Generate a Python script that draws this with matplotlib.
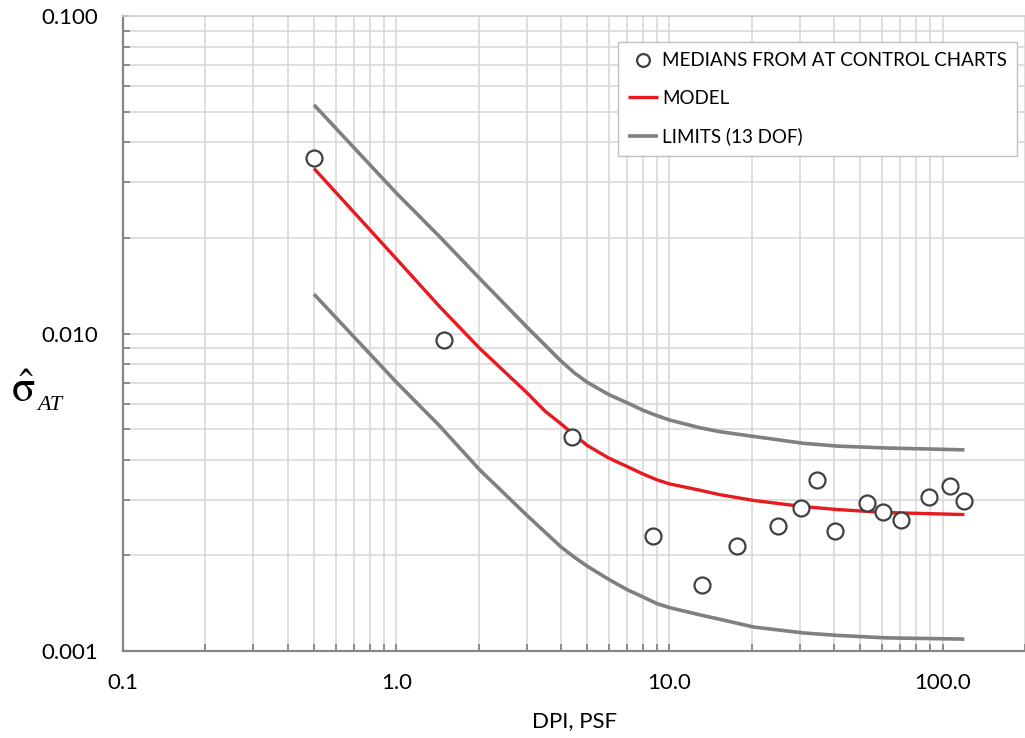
import matplotlib
matplotlib.use("Agg")
import matplotlib.pyplot as plt
from matplotlib.ticker import LogLocator, FixedLocator, FixedFormatter, NullFormatter

# medians from the AT control charts
dpi_psf = [0.5, 1.5, 4.4, 8.7, 13.2, 17.6, 24.9, 30.4, 34.8, 40.4, 52.8, 60.4, 70.3, 88.8, 106, 120]
sigma_med = [0.0357, 0.00954, 0.00473, 0.00231, 0.00161, 0.00214, 0.00247, 0.00282,
             0.00346, 0.00239, 0.00292, 0.00274, 0.00258, 0.00305, 0.00332, 0.00297]

# model and 13 DOF limits, read along a common DPI grid
curve_dpi = [0.5, 1.0, 1.44, 2.02, 3.0, 3.5, 4.0, 4.5, 5.0, 6.0, 7.0, 8.0, 9.0, 10.0, 12.9,
             15.2, 20.3, 30.9, 41.0, 61.9, 120]
model = [0.0331, 0.0172, 0.01216, 0.00898, 0.00652, 0.00570, 0.00520, 0.00478, 0.00444,
         0.00405, 0.00381, 0.00361, 0.00346, 0.00336, 0.00321, 0.00311, 0.00298, 0.00285,
         0.00279, 0.00273, 0.00269]
upper = [0.0525, 0.0277, 0.0202, 0.0149, 0.0105, 0.0092, 0.0082, 0.0075, 0.00702, 0.00642,
         0.00605, 0.00573, 0.00551, 0.00534, 0.00505, 0.00491, 0.00474, 0.00451, 0.00442,
         0.00436, 0.00430]
lower = [0.0133, 0.00703, 0.00512, 0.00372, 0.00268, 0.00237, 0.00213, 0.00197, 0.00185,
         0.00168, 0.00156, 0.00148, 0.00141, 0.00137, 0.00130, 0.00126, 0.00119, 0.00114,
         0.00112, 0.00110, 0.00109]

x_ticks = [0.1, 1.0, 10.0, 100.0]
x_labels = ["0.1", "1.0", "10.0", "100.0"]
y_ticks = [0.001, 0.01, 0.1]
y_labels = ["0.001", "0.010", "0.100"]

plt.rcParams['font.family'] = ['Lato', 'DejaVu Sans']
plt.rcParams['mathtext.fontset'] = 'stix'

fig = plt.figure(figsize=(10.25, 7.38), dpi=100)
ax = fig.add_axes([123 / 1025, 1 - 651 / 738, 1 - 123 / 1025, (651 - 16) / 738])

ax.set_xscale('log')
ax.set_yscale('log')
ax.set_xlim(0.1, 200)
ax.set_ylim(0.001, 0.1)

ln_lim, = ax.plot(curve_dpi, upper, color='#808080', lw=2.6, solid_capstyle='butt',
                  solid_joinstyle='round', zorder=3)
ax.plot(curve_dpi, lower, color='#808080', lw=2.6, solid_capstyle='butt',
        solid_joinstyle='round', zorder=3)
ln_mod, = ax.plot(curve_dpi, model, color='#E8191F', lw=2.4, solid_capstyle='butt',
                  solid_joinstyle='round', zorder=4)
pts, = ax.plot(dpi_psf, sigma_med, ls='none', marker='o', ms=11.5, mfc='white', mec='#404040',
               mew=1.6, zorder=5)

ax.xaxis.set_major_locator(FixedLocator(x_ticks))
ax.xaxis.set_major_formatter(FixedFormatter(x_labels))
ax.yaxis.set_major_locator(FixedLocator(y_ticks))
ax.yaxis.set_major_formatter(FixedFormatter(y_labels))
ax.xaxis.set_minor_locator(LogLocator(base=10, subs=range(2, 10), numticks=20))
ax.yaxis.set_minor_locator(LogLocator(base=10, subs=range(2, 10), numticks=20))
ax.xaxis.set_minor_formatter(NullFormatter())
ax.yaxis.set_minor_formatter(NullFormatter())

ax.grid(which='both', color='#D9D9D9', lw=1.2, zorder=0)
ax.set_axisbelow(True)
ax.tick_params(which='both', direction='in', length=5, width=1.3, color='#868686', labelsize=16)
ax.tick_params(axis='y', which='both', pad=18)
ax.tick_params(axis='x', which='both', pad=16)

for side in ('left', 'bottom'):
    ax.spines[side].set_color('#868686')
    ax.spines[side].set_linewidth(1.6)
ax.spines['top'].set_color('#D0D0D0')
ax.spines['top'].set_linewidth(1.2)
ax.spines['right'].set_visible(False)

leg = ax.legend([pts, ln_mod, ln_lim],
                ['MEDIANS FROM AT CONTROL CHARTS', 'MODEL', 'LIMITS (13 DOF)'],
                loc='upper right', bbox_to_anchor=(1017 / 1025, 1 - 42 / 738),
                bbox_transform=fig.transFigure, borderaxespad=0, fontsize=13.5,
                markerscale=0.8, handlelength=1.6, handletextpad=0.2,
                labelspacing=1.1, borderpad=0.55, fancybox=False, framealpha=1)
leg.get_frame().set_edgecolor('#C0C0C0')
leg.get_frame().set_linewidth(1.0)
leg.set_zorder(10)

fig.text(575 / 1025, 1 - 721 / 738, 'DPI, PSF', fontsize=16, ha='center', va='center')

# sigma-hat with an italic serif subscript
fig.text(11 / 1025, 1 - 402 / 738, r'$\hat{\mathrm{\sigma}}$', fontsize=31,
         ha='left', va='baseline')
fig.text(37 / 1025, 1 - 410 / 738, 'AT', family='Liberation Serif', style='italic',
         fontsize=16, ha='left', va='baseline')

fig.savefig('out.png', dpi=100)
